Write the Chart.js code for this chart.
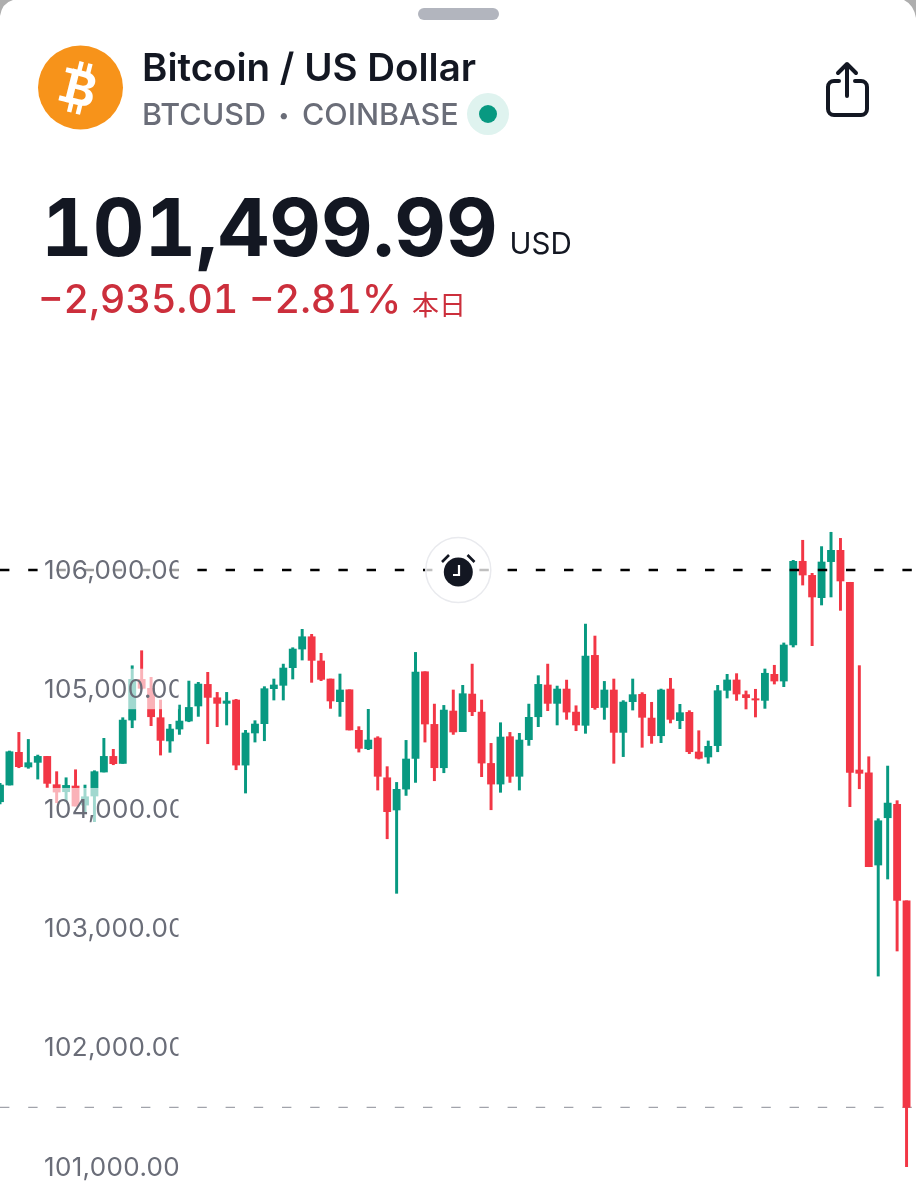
<!DOCTYPE html>
<html lang="en">
<head>
<meta charset="utf-8">
<title>Bitcoin / US Dollar</title>
<script src="https://cdn.jsdelivr.net/npm/chart.js@4/dist/chart.umd.min.js"></script>
<style>
html,body{margin:0;padding:0;background:#fff;}
#page{position:relative;width:916px;height:1200px;overflow:hidden;background:#fff;font-family:Inter,"Noto Sans","Noto Sans CJK JP",sans-serif;}
#page>div{position:absolute;white-space:nowrap;line-height:1;}
#chartBox{left:0;top:520px;width:916px;height:680px;}
#overlay{position:absolute;left:0;top:0;}
.tnum{font-feature-settings:"tnum";}
</style>
</head>
<body>
<div id="page">
  <div id="chartBox"><canvas id="c" width="916" height="680"></canvas></div>
  <svg id="overlay" width="916" height="1200" viewBox="0 0 916 1200">
    <path d="M0 0H13Q2 3 0 16Z" fill="#aeaeae"/>
    <path d="M916 0H904Q914 5 916 18Z" fill="#aeaeae"/>
    <rect x="418" y="8" width="81" height="12" rx="6" fill="#b2b5be"/>
    <ellipse cx="80.5" cy="87.5" rx="42.5" ry="42" fill="#f7931a"/>
    <g transform="rotate(14 80 88)" fill="#fff">
      <rect x="73" y="62" width="4.5" height="10"/><rect x="82" y="62" width="4.5" height="10"/>
      <rect x="73" y="104" width="4.5" height="10"/><rect x="82" y="104" width="4.5" height="10"/>
      <rect x="62" y="71" width="9" height="5"/><rect x="62" y="100" width="9" height="5"/>
      <text x="81" y="105" font-family="Inter" font-weight="700" font-size="47" text-anchor="middle">B</text>
    </g>
    <circle cx="488" cy="114" r="21" fill="#dff3ef"/>
    <circle cx="488" cy="114" r="9" fill="#089981"/>
    <g fill="none" stroke="#131722" stroke-width="4" stroke-linecap="round" stroke-linejoin="round">
      <path d="M839 81H834a6 6 0 0 0-6 6v22a6 6 0 0 0 6 6h27a6 6 0 0 0 6-6V87a6 6 0 0 0-6-6h-6"/>
      <path d="M847 96V66M838 73l9-9 9 9"/>
    </g>
    <circle cx="458.3" cy="570" r="32.5" fill="rgba(255,255,255,0.75)" stroke="#e9eaee" stroke-width="1.5"/>
    <circle cx="458.3" cy="572" r="14.5" fill="#131722"/>
    <path d="M459 565v10h-6" fill="none" stroke="#fff" stroke-width="2.2"/>
    <path d="M442 562l7-7M474.5 562l-7-7" stroke="#131722" stroke-width="2.6"/>
  </svg>
  <div style="left:142px;top:48px;font-size:38.5px;font-weight:600;color:#131722;">Bitcoin / US Dollar</div>
  <div style="left:142px;top:99px;font-size:30.5px;font-weight:500;color:#6a6d78;word-spacing:4.5px;">BTCUSD <span style="font-size:20px;vertical-align:3px;">•</span> COINBASE</div>
  <div class="tnum" style="left:41px;top:187px;font-size:80px;font-weight:700;color:#131722;">101,499.99</div>
  <div style="left:509.5px;top:229px;font-size:29.5px;font-weight:400;color:#131722;">USD</div>
  <div class="tnum" style="left:38px;top:280px;font-size:39.5px;font-weight:500;color:#cc2f3c;">−2,935.01 −2.81%</div>
  <div style="left:412px;top:290px;font-size:27px;font-weight:400;color:#cc2f3c;font-family:'Noto Sans CJK JP';">本日</div>
</div>
<script>
const yTicks = [101000, 102000, 103000, 104000, 105000, 106000];
const alertLevel = 106000;
const lastPrice = 101499.99;
const highs = [104213,104484,104640,104581,104450,104439,104311,104260,104327,104199,104319,104590,104498,104763,105198,105324,105101,104911,104707,104869,105070,105059,105143,104975,104975,104917,104657,104738,105023,105087,105212,105349,105503,105461,105302,105087,105129,104997,104688,104833,104604,104353,104221,104573,105310,105148,104877,104866,104995,105034,105212,104911,104548,104721,104640,104632,104877,105115,105212,105028,105078,104863,105547,105447,105067,105087,104906,105087,104973,104892,105003,105093,104875,104822,104654,104568,105034,105126,105132,104987,105001,105171,105202,105389,106081,106249,105972,106196,106316,106265,105897,105199,104436,103917,104358,104068,103230];
const lows = [104040,104199,104344,104339,104249,104179,104051,104059,104023,103976,103892,104308,104369,104380,104679,105003,104696,104450,104473,104623,104729,104774,104545,104688,104702,104327,104132,104559,104570,104911,104911,105087,105246,105059,105073,104841,104774,104660,104475,104495,104157,103749,103292,104112,104221,104559,104235,104302,104623,104646,104780,104269,103992,104138,104221,104157,104531,104688,104822,104702,104749,104654,104632,104833,104749,104381,104437,104827,104515,104548,104554,104719,104671,104462,104417,104381,104478,104928,104908,104836,104769,104841,105045,105023,105355,105874,105366,105707,105774,105662,104018,104168,103515,102599,103412,102809,101002];
const opens = [104059,104199,104473,104350,104389,104439,104202,104143,104191,104031,104107,104308,104439,104380,104743,105084,105009,104763,104568,104668,104735,104861,105042,104930,104883,104911,104366,104635,104713,105006,105034,105182,105338,105441,105238,105087,104897,104997,104657,104503,104593,104260,103990,104165,104422,105148,104707,104344,104819,104646,104961,104810,104380,104207,104604,104272,104579,104771,105037,104883,105003,104810,104699,105285,104849,104995,104640,104897,104959,104760,104612,105003,104738,104808,104476,104434,104529,104992,105079,104956,104922,104908,105126,105070,105372,106073,105955,105768,106070,106165,105897,104325,104302,103529,103925,104037,103230];
const closes = [104199,104478,104353,104386,104439,104213,104140,104196,104023,104101,104311,104439,104378,104743,105084,105009,104771,104573,104668,104735,104849,105045,104933,104883,104903,104366,104635,104710,105006,105037,105179,105338,105441,105243,105084,104903,104995,104660,104506,104576,104272,103976,104163,104417,105145,104710,104344,104827,104643,104964,104813,104383,104207,104601,104272,104576,104766,105042,104883,105003,104810,104702,105279,104847,104995,104640,104894,104956,104766,104612,104995,104749,104805,104478,104423,104523,104989,105079,104961,104931,104911,105135,105070,105372,106073,105958,105774,106067,106165,105908,104305,104297,103515,103900,104048,103233,101499.99];
const categories = highs.map((_, i) => String(i)).concat(['97']);
const upColor = '#089981';
const downColor = '#f23645';

const candleColors = closes.map((c, i) => c >= opens[i] ? upColor : downColor);
const wickData = highs.map((h, i) => [lows[i], h]);
const bodyData = opens.map((o, i) => [o, closes[i]]);

const pxPerUnit = 119.4 / 1000;
const yMax = alertLevel + 50 / pxPerUnit;
const yMin = yMax - 680 / pxPerUnit;
const firstCat = categories[0];
const lastCat = categories[categories.length - 1];

const tickLabelPlugin = {
  id: 'tickLabelPlugin',
  afterDatasetsDraw(chart) {
    const ctx = chart.ctx, y = chart.scales.y;
    ctx.save();
    y.ticks.forEach(t => {
      const py = y.getPixelForValue(t.value);
      ctx.save();
      ctx.beginPath();
      ctx.rect(44, py - 21, 134.5, 41);
      ctx.clip();
      ctx.fillStyle = 'rgba(255,255,255,0.62)';
      ctx.fillRect(44, py - 21, 136, 41);
      ctx.fillStyle = '#6a6d78';
      ctx.font = '400 26px Inter';
      ctx.letterSpacing = '0.35px';
      ctx.textAlign = 'left';
      ctx.textBaseline = 'middle';
      ctx.fillText(t.label, 44, py + 1);
      ctx.restore();
    });
    ctx.restore();
  }
};

new Chart(document.getElementById('c').getContext('2d'), {
  data: {
    labels: categories,
    datasets: [
      { type:'line', data:[{x:firstCat,y:alertLevel},{x:lastCat,y:alertLevel}], borderColor:'#000', borderWidth:2.5, borderDash:[9.4,18.8], pointRadius:0, fill:false, order:0 },
      { type:'line', data:[{x:firstCat,y:lastPrice},{x:lastCat,y:lastPrice}], borderColor:'#8a8d96', borderWidth:1, borderDash:[9.4,18.8], pointRadius:0, fill:false, order:3 },
      { type:'bar', data:bodyData, backgroundColor:candleColors, barThickness:7.2, grouped:false, borderWidth:0, order:1 },
      { type:'bar', data:wickData, backgroundColor:candleColors, barThickness:2.3, grouped:false, borderWidth:0, order:2 }
    ]
  },
  options: {
    responsive:false,
    animation:false,
    layout:{padding:0},
    plugins:{legend:{display:false},tooltip:{enabled:false}},
    scales:{
      x:{type:'category',display:false,offset:false,grid:{display:false}},
      y:{type:'linear',display:false,min:yMin,max:yMax,
         afterBuildTicks(scale){scale.ticks = yTicks.map(v => ({value:v}));},
         ticks:{callback:v => v.toLocaleString('en-US',{minimumFractionDigits:2,maximumFractionDigits:2})}}
    }
  },
  plugins:[tickLabelPlugin]
});
</script>
</body>
</html>
